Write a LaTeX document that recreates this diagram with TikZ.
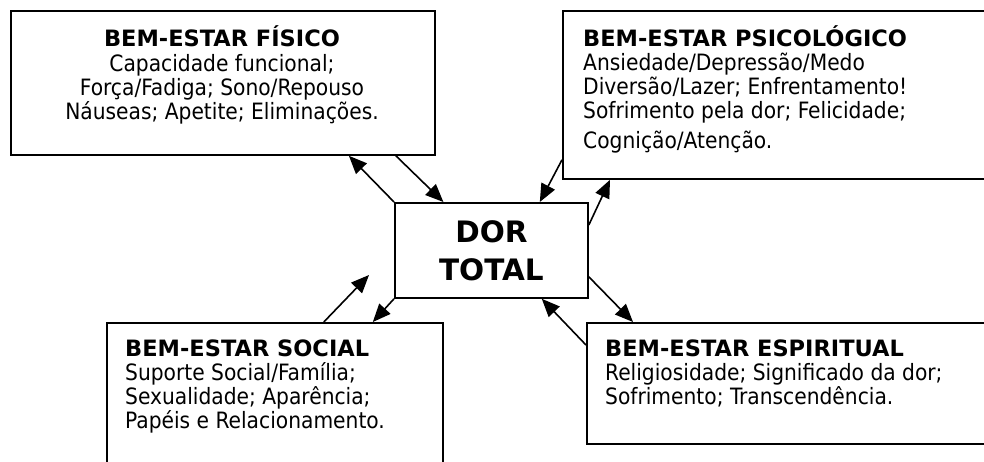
\documentclass[tikz,border=0pt]{standalone}
\usepackage{fontspec}
\setmainfont{DejaVu Sans Condensed}[BoldFont={DejaVu Sans Bold}]
\usetikzlibrary{arrows.meta}
\begin{document}
\begin{tikzpicture}[x=1pt,y=-1pt,
        caixa/.style={draw,line width=1.8pt,inner sep=0pt,anchor=north west},
        texto/.style={inner sep=0pt,font=\fontsize{22.5}{24}\selectfont},
        seta/.style={line width=1.6pt,-{Triangle[length=18pt,width=15pt]}}]
    \useasboundingbox (0,0) rectangle (984,461);
    \node[caixa,minimum width=424pt,minimum height=144pt] (fisico) at (10,10) {};
    \node[caixa,minimum width=438pt,minimum height=168pt] (psico) at (562,10) {};
    \node[caixa,minimum width=193pt,minimum height=95pt] (dor) at (394,202) {};
    \node[caixa,minimum width=336pt,minimum height=170pt] (social) at (106,322) {};
    \node[caixa,minimum width=420pt,minimum height=121pt] (esp) at (586,322) {};
    \node[texto,anchor=north,align=center] (tfisico) at (222,25)
        {\textbf{BEM-ESTAR FÍSICO}\\[1pt]Capacidade funcional;\\Força/Fadiga; Sono/Repouso\\Náuseas; Apetite; Eliminações.};
    \node[texto,anchor=north west,align=left] (tpsico) at (583,25)
        {\textbf{BEM-ESTAR PSICOLÓGICO}\\Ansiedade/Depressão/Medo\\Diversão/Lazer; Enfrentamento!\\Sofrimento pela dor; Felicidade;\\[6pt]Cognição/Atenção.};
    \node[inner sep=0pt,font=\bfseries\fontsize{29.5}{38}\selectfont,align=center] (tdor) at (dor) {DOR\\TOTAL};
    \node[texto,anchor=north west,align=left] (tsocial) at (125,340)
        {\textbf{BEM-ESTAR SOCIAL}\\Suporte Social/Família;\\Sexualidade; Aparência;\\Papéis e Relacionamento.};
    \node[texto,anchor=north west,align=left] (tesp) at (605,340)
        {\textbf{BEM-ESTAR ESPIRITUAL}\\Religiosidade; Significado da dor;\\Sofrimento; Transcendência.};
    \draw[seta] (dor.north west) -- ([xshift=126pt]fisico.south);
    \draw[seta] ([xshift=173pt]fisico.south) -- ([xshift=-48pt]dor.north);
    \draw[seta] ([yshift=20pt]psico.south west) -- ([xshift=-49pt]dor.north east);
    \draw[seta] ([yshift=-23pt]dor.north east) -- ([xshift=48pt]psico.south west);
    \draw[seta] ([yshift=22pt]dor.south east) -- ([xshift=47pt]esp.north west);
    \draw[seta] ([yshift=-23pt]esp.north west) -- ([xshift=-47pt]dor.south east);
    \draw[seta] (dor.south west) -- ([xshift=-71pt]social.north east);
    \coordinate (livre) at (369,275);
    \draw[seta] ([xshift=-120pt]social.north east) -- (livre);
\end{tikzpicture}
\end{document}
